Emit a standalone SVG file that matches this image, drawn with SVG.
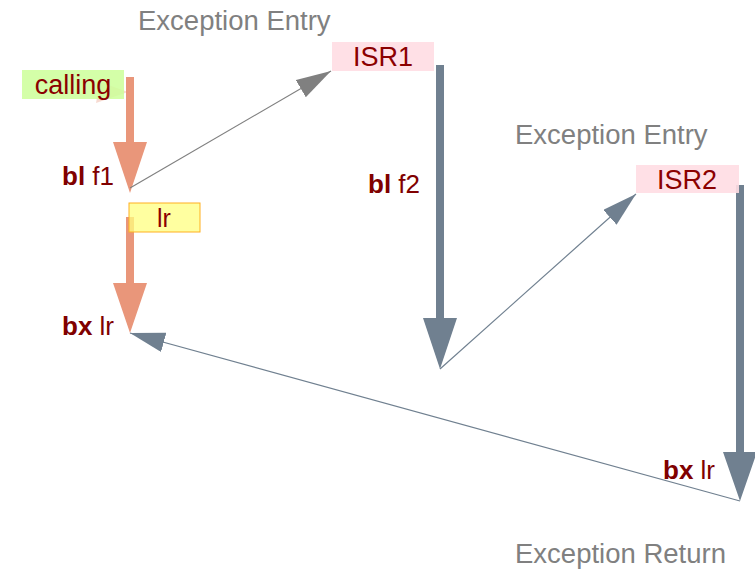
<svg xmlns="http://www.w3.org/2000/svg" width="755" height="570" viewBox="0 0 755 570">
  <style>
    .lbl { font-family: "Liberation Sans", Arial, sans-serif; fill: #800000; font-size: 26px; }
    .bold { font-weight: bold; }
    .box-txt { font-family: "Liberation Sans", Arial, sans-serif; fill: #8b0000; font-size: 27px; text-anchor: middle; }
    .caption { font-family: "Liberation Sans", Arial, sans-serif; fill: #808080; font-size: 27.5px; }
    .thin-gray { stroke: #808080; stroke-width: 1.2; fill: none; }
    .thin-slate { stroke: #708090; stroke-width: 1.2; fill: none; }
    .call-arrow { fill: #e9967a; }
    .isr-arrow { fill: #708090; }
    .isr-box { fill: #ffdde3; fill-opacity: 0.9; }
  </style>
  <defs>
    <marker id="head-gray" markerUnits="userSpaceOnUse" markerWidth="36" markerHeight="22" refX="35" refY="10" orient="auto">
      <path d="M0,0 L35,10 L0,20 z" fill="#808080"/>
    </marker>
    <marker id="head-slate" markerUnits="userSpaceOnUse" markerWidth="36" markerHeight="22" refX="35" refY="10" orient="auto">
      <path d="M0,0 L35,10 L0,20 z" fill="#708090"/>
    </marker>
  </defs>

  <!-- captions -->
  <text class="caption" x="138" y="30">Exception Entry</text>
  <text class="caption" x="515" y="144">Exception Entry</text>
  <text class="caption" x="515" y="563">Exception Return</text>

  <!-- thick flow arrows -->
  <g id="flow-arrows">
    <polygon class="call-arrow" points="126,77 134,77 134,142 147,142 130,193 113,142 126,142"/>
    <polygon class="call-arrow" points="126,217 134,217 134,283 147,283 130,333 113,283 126,283"/>
    <polygon class="isr-arrow" points="436,65 444,65 444,318 457,318 440,369 423,318 436,318"/>
    <polygon class="isr-arrow" points="736,185 744,185 744,452 757,452 740,501 723,452 736,452"/>
  </g>

  <!-- connectors -->
  <g id="connectors">
    <line class="thin-gray" x1="130" y1="188" x2="331" y2="71" marker-end="url(#head-gray)"/>
    <line class="thin-slate" x1="440" y1="369" x2="636" y2="194" marker-end="url(#head-slate)"/>
    <line class="thin-slate" x1="740" y1="501" x2="130" y2="333" marker-end="url(#head-slate)"/>
  </g>

  <!-- caller -->
  <g id="calling">
    <polygon points="100,82 128,92 96,103" fill="#e9967a" opacity="0.35"/>
    <rect x="22" y="70" width="102" height="29" fill="#ccff99" fill-opacity="0.85"/>
    <text class="box-txt" x="73" y="94">calling</text>
  </g>

  <g id="bl-f1">
    <text class="lbl" x="62" y="185"><tspan class="bold">bl</tspan> f1</text>
  </g>

  <g id="lr">
    <rect x="129" y="203" width="71" height="29" fill="#ffff80" fill-opacity="0.75" stroke="#ffb020" stroke-width="1"/>
    <text class="box-txt" x="164" y="227" style="font-size:25px">lr</text>
  </g>

  <g id="bx-lr-main">
    <text class="lbl" x="62" y="335"><tspan class="bold">bx</tspan> lr</text>
  </g>

  <g id="isr1">
    <rect class="isr-box" x="332" y="42" width="102" height="29"/>
    <text class="box-txt" x="383" y="66">ISR1</text>
  </g>

  <g id="bl-f2">
    <text class="lbl" x="368" y="193"><tspan class="bold">bl</tspan> f2</text>
  </g>

  <g id="isr2">
    <rect class="isr-box" x="636" y="165" width="103" height="28"/>
    <text class="box-txt" x="687" y="189">ISR2</text>
  </g>

  <g id="bx-lr-isr">
    <text class="lbl" x="663" y="479"><tspan class="bold">bx</tspan> lr</text>
  </g>
</svg>
